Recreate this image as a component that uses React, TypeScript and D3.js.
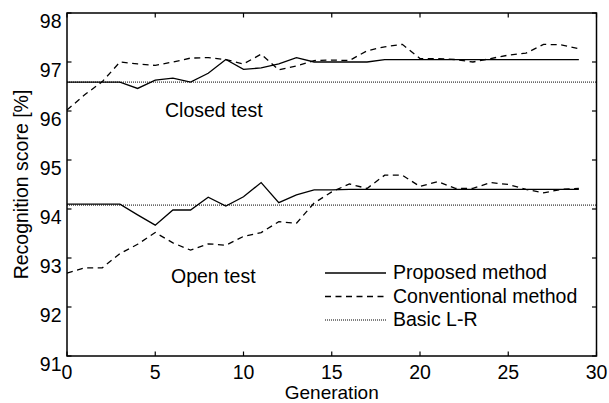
import React from "react";
import * as d3 from "d3";

// generation index 0..29
const generations = [0, 1, 2, 3, 4, 5, 6, 7, 8, 9, 10, 11, 12, 13, 14, 15, 16, 17, 18, 19, 20, 21, 22, 23, 24, 25, 26, 27, 28, 29];

const closedProposed = [96.59, 96.59, 96.59, 96.59, 96.46, 96.63, 96.67, 96.59, 96.77, 97.05, 96.85, 96.88, 96.96, 97.09, 97.0, 97.0, 97.0, 97.0, 97.05, 97.05, 97.05, 97.05, 97.05, 97.05, 97.05, 97.05, 97.05, 97.05, 97.05, 97.05];
const closedConventional = [96.02, 96.33, 96.6, 97.0, 96.96, 96.93, 97.0, 97.08, 97.09, 97.05, 96.96, 97.16, 96.84, 96.92, 97.03, 97.04, 97.03, 97.23, 97.31, 97.36, 97.07, 97.07, 97.05, 97.0, 97.07, 97.14, 97.18, 97.36, 97.35, 97.27];
const openProposed = [94.1, 94.1, 94.1, 94.1, 93.88, 93.67, 93.98, 93.98, 94.24, 94.06, 94.25, 94.54, 94.13, 94.29, 94.39, 94.39, 94.4, 94.4, 94.4, 94.4, 94.4, 94.4, 94.4, 94.4, 94.4, 94.4, 94.4, 94.4, 94.4, 94.4];
const openConventional = [92.69, 92.8, 92.8, 93.09, 93.28, 93.52, 93.31, 93.16, 93.29, 93.26, 93.44, 93.52, 93.74, 93.71, 94.12, 94.35, 94.51, 94.42, 94.69, 94.69, 94.46, 94.56, 94.42, 94.42, 94.54, 94.5, 94.4, 94.33, 94.4, 94.42];

const basicLR = [96.59, 94.08]; // closed, open
const basicRange = [0, 30];

const xTicks = [0, 5, 10, 15, 20, 25, 30];
const yTicks = [91, 92, 93, 94, 95, 96, 97, 98];
const legendLabels = ["Proposed method", "Conventional method", "Basic L-R"];

const FONT = "'Liberation Sans', Arial, Helvetica, sans-serif";

export default function App() {
  const left = 67, right = 596.5, top = 13, bottom = 356;
  const x = d3.scaleLinear().domain([0, 30]).range([left, right]);
  const y = d3.scaleLinear().domain([91, 98]).range([bottom, top]);

  const line = d3.line<number>()
    .x((d, i) => x(generations[i]))
    .y((d) => y(d));

  const solid = { stroke: "#000", strokeWidth: 1.3, fill: "none" };
  const dashed = { ...solid, strokeDasharray: "6,4.5" };
  const dotted = { stroke: "#000", strokeWidth: 1, fill: "none", strokeDasharray: "1,1" };

  const tickLen = 4.5;
  const legendY = [273, 296.5, 320];
  const legendStyles = [solid, dashed, dotted];

  return (
    <svg width={609} height={403} style={{ position: "absolute", left: 0, top: 0, background: "#fff" }}
      fontFamily={FONT} fontSize={19.5}>
      {/* basic L-R reference lines */}
      {basicLR.map((v, i) => (
        <line key={"b" + i} x1={x(basicRange[0])} x2={x(basicRange[1])} y1={y(v)} y2={y(v)} {...dotted} />
      ))}
      <path d={line(closedConventional) || ""} {...dashed} />
      <path d={line(openConventional) || ""} {...dashed} />
      <path d={line(closedProposed) || ""} {...solid} />
      <path d={line(openProposed) || ""} {...solid} />

      {/* frame */}
      <rect x={left} y={top} width={right - left} height={bottom - top} fill="none" stroke="#000" strokeWidth={1.5} />
      {xTicks.map((t) => (
        <g key={"x" + t}>
          <line x1={x(t)} x2={x(t)} y1={bottom} y2={bottom - tickLen} stroke="#000" strokeWidth={1.2} />
          <line x1={x(t)} x2={x(t)} y1={top} y2={top + tickLen} stroke="#000" strokeWidth={1.2} />
          <text x={x(t)} y={379} textAnchor="middle">{t}</text>
        </g>
      ))}
      {yTicks.map((t) => (
        <g key={"y" + t}>
          <line x1={left} x2={left + tickLen} y1={y(t)} y2={y(t)} stroke="#000" strokeWidth={1.2} />
          <line x1={right} x2={right - tickLen} y1={y(t)} y2={y(t)} stroke="#000" strokeWidth={1.2} />
          <text x={61.5} y={y(t) + 15} textAnchor="end">{t}</text>
        </g>
      ))}

      <text x={(left + right) / 2} y={398.5} textAnchor="middle" fontSize={19}>Generation</text>
      <text transform={`translate(28, ${(top + bottom) / 2}) rotate(-90)`} textAnchor="middle">Recognition score [%]</text>

      <text x={165} y={116.5}>Closed test</text>
      <text x={171} y={283}>Open test</text>

      {/* legend */}
      {legendLabels.map((lab, i) => (
        <g key={lab}>
          <line x1={325} x2={386} y1={legendY[i]} y2={legendY[i]} {...legendStyles[i]} />
          <text x={393} y={legendY[i] + 6}>{lab}</text>
        </g>
      ))}
    </svg>
  );
}
